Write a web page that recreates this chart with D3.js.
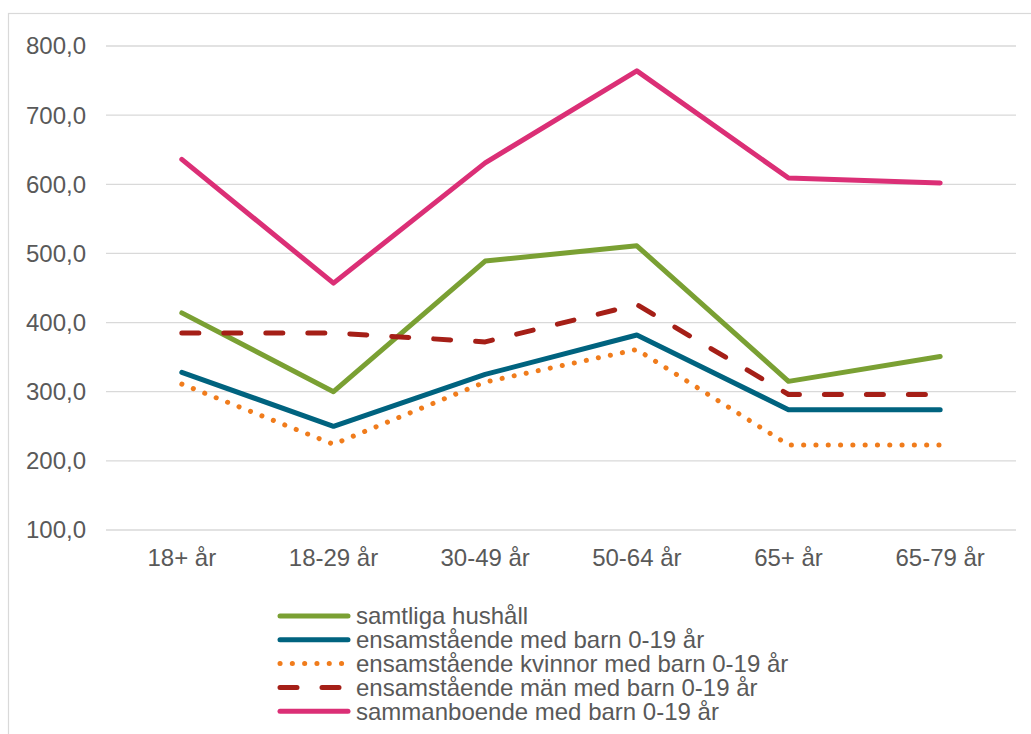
<!DOCTYPE html>
<html>
<head>
<meta charset="utf-8">
<script src="https://cdn.jsdelivr.net/npm/d3@7.9.0/dist/d3.min.js"></script>
<style>
  body { margin: 0; background: #fff; }
  svg { display: block; font-family: "Liberation Sans", Arial, sans-serif; }
</style>
</head>
<body>
<svg id="chart" width="1031" height="734"></svg>
<script>
// Data
const categories = ['18+ år', '18-29 år', '30-49 år', '50-64 år', '65+ år', '65-79 år'];
const yTicks = [100, 200, 300, 400, 500, 600, 700, 800];

const samtliga = [414, 300, 489, 511, 315, 351];
const ensamMedBarn = [328, 250, 325, 382, 274, 274];
const ensamKvinnor = [311, 224, 314, 361, 223, 223];
const ensamMan = [385, 385, 372, 426, 296, 296];
const sammanboende = [636, 457, 631, 764, 609, 602];

const seriesNames = [
  'samtliga hushåll',
  'ensamstående med barn 0-19 år',
  'ensamstående kvinnor med barn 0-19 år',
  'ensamstående män med barn 0-19 år',
  'sammanboende med barn 0-19 år'
];

const series = [
  { name: seriesNames[0], values: samtliga, color: '#7aa033', dash: null },
  { name: seriesNames[1], values: ensamMedBarn, color: '#00637f', dash: null },
  { name: seriesNames[2], values: ensamKvinnor, color: '#f07c1c', dash: '0.1,12.2' },
  { name: seriesNames[3], values: ensamMan, color: '#a51f17', dash: '17,25' },
  { name: seriesNames[4], values: sammanboende, color: '#db2f76', dash: null }
];

const svg = d3.select('#chart');

// outer chart border (runs off the picture at right and bottom)
svg.append('rect')
  .attr('x', 8.5).attr('y', 13.5)
  .attr('width', 1040).attr('height', 740)
  .attr('fill', 'none')
  .attr('stroke', '#d9d9d9')
  .attr('stroke-width', 1.2);

const x = d3.scalePoint().domain(categories).range([106, 1016]).padding(0.5);
const y = d3.scaleLinear().domain([100, 800]).range([530, 46]);

// gridlines
svg.append('g')
  .selectAll('line')
  .data(yTicks)
  .join('line')
  .attr('x1', 106).attr('x2', 1016)
  .attr('y1', d => y(d)).attr('y2', d => y(d))
  .attr('stroke', '#d9d9d9')
  .attr('stroke-width', 1.3);

// y axis labels
const fmt = d => d3.format('.1f')(d).replace('.', ',');
svg.append('g')
  .selectAll('text')
  .data(yTicks)
  .join('text')
  .attr('x', 86)
  .attr('y', d => y(d))
  .attr('dy', '0.35em')
  .attr('text-anchor', 'end')
  .attr('font-size', 24)
  .attr('fill', '#595959')
  .text(fmt);

// x axis labels
svg.append('g')
  .selectAll('text')
  .data(categories)
  .join('text')
  .attr('x', d => x(d))
  .attr('y', 557.6)
  .attr('dy', '0.35em')
  .attr('text-anchor', 'middle')
  .attr('font-size', 24)
  .attr('fill', '#595959')
  .text(d => d);

// lines
const line = d3.line()
  .x((d, i) => x(categories[i]))
  .y(d => y(d));

series.forEach(s => {
  svg.append('path')
    .attr('d', line(s.values))
    .attr('fill', 'none')
    .attr('stroke', s.color)
    .attr('stroke-width', 5)
    .attr('stroke-linejoin', 'round')
    .attr('stroke-linecap', 'round')
    .attr('stroke-dasharray', s.dash);
});

// legend
const legend = svg.append('g').attr('transform', 'translate(280,616)');
series.forEach((s, i) => {
  const row = legend.append('g').attr('transform', `translate(0,${i * 23.8})`);
  row.append('line')
    .attr('x1', 0).attr('x2', s.dash === '17,25' ? 62 : 68)
    .attr('y1', 0).attr('y2', 0)
    .attr('stroke', s.color)
    .attr('stroke-width', 5)
    .attr('stroke-linecap', 'round')
    .attr('stroke-dasharray', s.dash);
  row.append('text')
    .attr('x', 76)
    .attr('y', 0)
    .attr('dy', '0.35em')
    .attr('font-size', 24)
    .attr('fill', '#595959')
    .text(s.name);
});
</script>
</body>
</html>
